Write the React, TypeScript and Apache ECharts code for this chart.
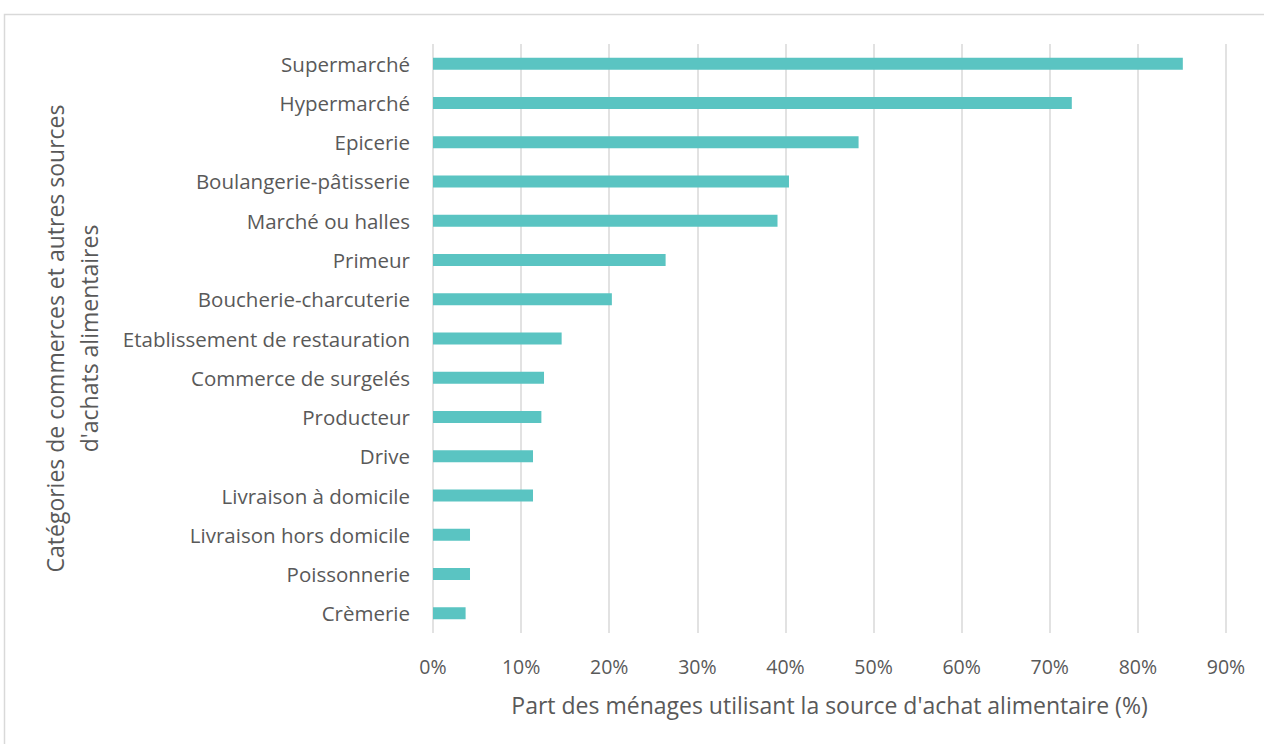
import React, { useEffect, useRef } from "react";
import * as echarts from "echarts";

const categories = [
  "Supermarché",
  "Hypermarché",
  "Epicerie",
  "Boulangerie-pâtisserie",
  "Marché ou halles",
  "Primeur",
  "Boucherie-charcuterie",
  "Etablissement de restauration",
  "Commerce de surgelés",
  "Producteur",
  "Drive",
  "Livraison à domicile",
  "Livraison hors domicile",
  "Poissonnerie",
  "Crèmerie",
];

const values = [85.1, 72.5, 48.3, 40.4, 39.1, 26.4, 20.3, 14.6, 12.6, 12.3, 11.35, 11.35, 4.2, 4.2, 3.7];

const xTicks = [0, 10, 20, 30, 40, 50, 60, 70, 80, 90];

const xTitle = "Part des ménages utilisant la source d'achat alimentaire (%)";
const yTitle = "Catégories de commerces et autres sources\nd'achats alimentaires";

const FONT = "Open Sans";
const TEXT = "#595959";

export default function App() {
  const ref = useRef<HTMLDivElement>(null);
  useEffect(() => {
    if (!ref.current) return;
    const chart = echarts.init(ref.current, null, { renderer: "svg" });
    chart.setOption({
      animation: false,
      backgroundColor: "#ffffff",
      textStyle: { fontFamily: FONT },
      graphic: [
        {
          type: "rect",
          shape: { x: 4.5, y: 14.5, width: 1400, height: 900 },
          style: { fill: "none", stroke: "#d9d9d9", lineWidth: 1.5 },
          silent: true,
        },
      ],
      grid: { left: 433, right: 38, top: 44, bottom: 111, containLabel: false },
      xAxis: {
        type: "value",
        min: xTicks[0],
        max: xTicks[xTicks.length - 1],
        interval: 10,
        axisLine: { show: false },
        axisTick: { show: false },
        splitLine: { show: true, lineStyle: { color: "#d9d9d9", width: 1.5 } },
        axisLabel: {
          formatter: (v: number) => `${v}%`,
          color: TEXT,
          fontSize: 19.5,
          fontFamily: FONT,
          margin: 23,
        },
        name: xTitle,
        nameLocation: "middle",
        nameGap: 60,
        nameTextStyle: { color: TEXT, fontSize: 23, fontFamily: FONT },
      },
      yAxis: {
        type: "category",
        data: categories,
        inverse: true,
        axisLine: { show: false },
        axisTick: { show: false },
        splitLine: { show: false },
        axisLabel: { color: TEXT, fontSize: 20.5, fontFamily: FONT, margin: 23 },
        name: yTitle,
        nameLocation: "middle",
        nameRotate: 90,
        nameGap: 327,
        nameTextStyle: { color: TEXT, fontSize: 23, fontFamily: FONT, lineHeight: 34, align: "center" },
      },
      series: [
        {
          type: "bar",
          data: values,
          barWidth: 12,
          itemStyle: { color: "#5AC4C2" },
        },
      ],
    });
    return () => chart.dispose();
  }, []);
  return (
    <div
      ref={ref}
      style={{ position: "fixed", left: 0, top: 0, width: 1264, height: 744 }}
    />
  );
}
